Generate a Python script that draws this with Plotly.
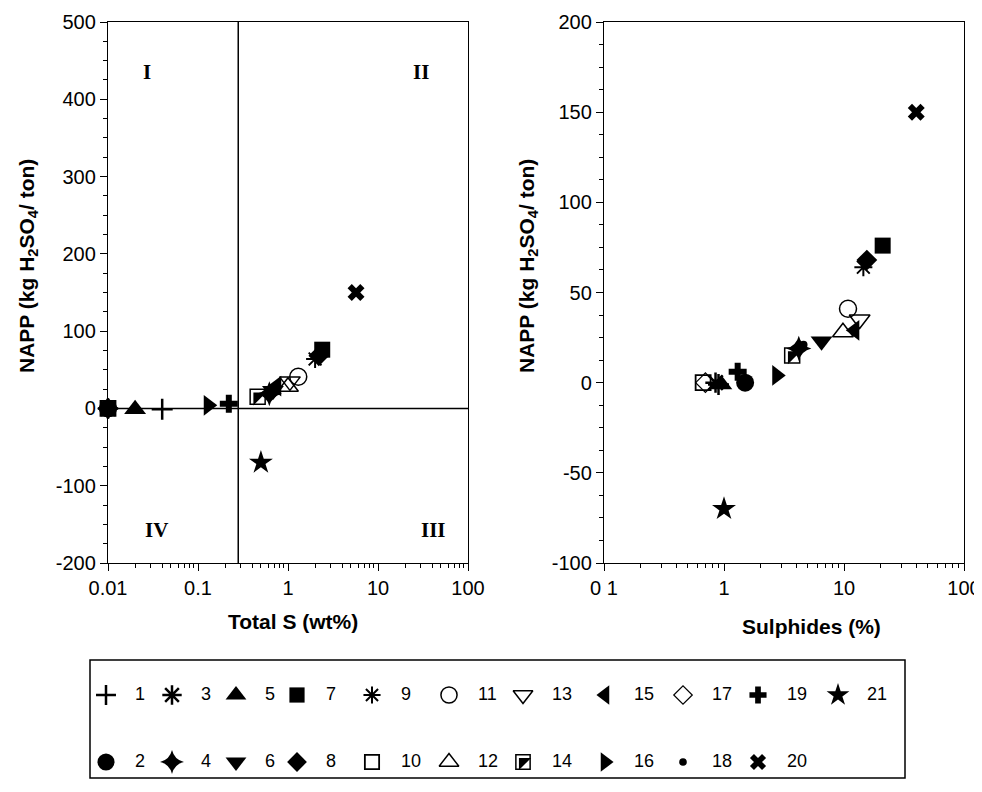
import math
import plotly.graph_objects as go

# ---------------- data ----------------
samples = list(range(1, 22))
total_s = [0.04, 0.01, 0.01, 0.62, 0.02, 0.68, 2.4, 2.2, 2.0, 0.01, 1.3,
           1.0, 1.05, 0.46, 0.75, 0.13, 0.01, 0.62, 0.22, 5.7, 0.5]
sulphides = [0.9, 1.5, 0.85, 4.2, 0.95, 6.5, 21, 15.5, 14.5, 0.67, 10.8,
             9.8, 13.5, 3.7, 12.3, 2.75, 0.7, 4.6, 1.3, 40, 1.0]
napp = [-1, 0, 0, 19, -1, 23, 76, 68, 64, 0, 41,
        28, 35, 15, 29, 4, 0, 21, 6, 150, -70]

left_xticks = [0.01, 0.1, 1, 10, 100]
left_xlabels = ["0.01", "0.1", "1", "10", "100"]
right_xticks = [0.1, 1, 10, 100]
right_xlabels = ["0 1", "1", "10", "100"]
left_yticks = [-200, -100, 0, 100, 200, 300, 400, 500]
left_ylabels = ["-200", "-100", "0", "100", "200", "300", "400", "500"]
right_yticks = [-100, -50, 0, 50, 100, 150, 200]
right_ylabels = ["-100", "-50", "0", "50", "100", "150", "200"]
quadrant_labels = ["I", "II", "III", "IV"]
quadrant_x = [0.027, 30, 41, 0.035]
quadrant_y = [435, 435, -157, -157]
s_threshold = 0.28

# ---------------- styles ----------------
sym = {1: "cross-thin-open", 2: "circle", 3: "asterisk-open", 4: "star-diamond",
       5: "triangle-up", 6: "triangle-down", 7: "square", 8: "diamond",
       9: "asterisk-open", 10: "square-open", 11: "circle-open",
       12: "triangle-up-open", 13: "triangle-down-open", 14: "square-open",
       15: "triangle-left", 16: "triangle-right", 17: "diamond-open",
       18: "circle", 19: "cross", 20: "x", 21: "star"}
size = {1: 15, 2: 18, 3: 17, 4: 18, 5: 19, 6: 19, 7: 16, 8: 16, 9: 15,
        10: 15, 11: 17, 12: 18, 13: 18, 14: 15, 15: 18, 16: 18, 17: 15,
        18: 8, 19: 15, 20: 15, 21: 18}
lw = {1: 2.5, 3: 2.5, 9: 2, 10: 1.8, 11: 1.5, 12: 1.5, 13: 1.5, 14: 1.5, 17: 1.2}

OFF = 8                      # page body margin
W, H = 982 - OFF, 792 - 2 * OFF
FONT = "Liberation Sans"


def px_x(v):
    return (v - OFF) / W


def px_y(v):
    return 1 - (v - OFF) / H


fig = go.Figure()


def marker_for(i, scale=1.0):
    return dict(symbol=sym[i], size=size[i] * scale, color="black",
                line=dict(color="black", width=lw.get(i, 0)))


for ax, xs in (("", total_s), ("2", sulphides)):
    for k, i in enumerate(samples):
        fig.add_trace(go.Scatter(x=[xs[k]], y=[napp[k]], mode="markers",
                                 xaxis="x" + ax, yaxis="y" + ax,
                                 marker=marker_for(i), showlegend=False,
                                 cliponaxis=False, name=str(i)))
        if i == 14:
            fig.add_trace(go.Scatter(x=[xs[k]], y=[napp[k]], mode="markers",
                                     xaxis="x" + ax, yaxis="y" + ax,
                                     marker=dict(symbol="triangle-nw", size=size[i] * 0.95,
                                                 color="black", line=dict(width=0)),
                                     showlegend=False, cliponaxis=False))

# ---------------- legend (drawn on its own pixel axis) ----------------
col_x = [106, 172, 236, 297, 372, 449, 523, 605, 683, 758, 838]
row_y = [695, 762]
leg_x, leg_y, leg_lab = [], [], []
for i in samples:
    col = (i - 1) // 2
    row = (i - 1) % 2
    fig.add_trace(go.Scatter(x=[col_x[col]], y=[row_y[row]], mode="markers",
                             xaxis="x3", yaxis="y3", marker=marker_for(i, 0.95),
                             showlegend=False, cliponaxis=False))
    if i == 14:
        fig.add_trace(go.Scatter(x=[col_x[col]], y=[row_y[row]], mode="markers",
                                 xaxis="x3", yaxis="y3",
                                 marker=dict(symbol="triangle-nw", size=size[i] * 0.9,
                                             color="black", line=dict(width=0)),
                                 showlegend=False, cliponaxis=False))
    leg_x.append(col_x[col] + 29)
    leg_y.append(row_y[row])
    leg_lab.append(str(i))

fig.add_trace(go.Scatter(x=leg_x, y=leg_y, mode="text", text=leg_lab,
                         textposition="middle right", xaxis="x3", yaxis="y3",
                         textfont=dict(family=FONT, size=18, color="black"),
                         showlegend=False, cliponaxis=False))

# ---------------- axes ----------------
dom_left = [px_x(108), px_x(468)]
dom_right = [px_x(604), px_x(964)]
dom_y = [px_y(563), px_y(22)]

tickfont = dict(family=FONT, size=20, color="black")
common = dict(showgrid=False, zeroline=False, showline=True, linecolor="black",
              linewidth=1.3, mirror=True, ticks="outside", ticklen=7,
              tickcolor="black", tickwidth=1, tickfont=tickfont, automargin=False,
              ticklabeloverflow="allow")
minor_log = dict(ticks="outside", ticklen=4, dtick="D1", tickcolor="black", showgrid=False)

leg_top = 640
fig.update_layout(
    template="none",
    xaxis=dict(type="log", domain=dom_left, range=[-2, 2], anchor="y",
               tickvals=left_xticks, ticktext=left_xlabels, minor=minor_log, **common),
    yaxis=dict(domain=dom_y, range=[-200, 500], anchor="x",
               tickvals=left_yticks, ticktext=left_ylabels,
               minor=dict(ticks="outside", ticklen=4, dtick=25,
                          tickcolor="black", showgrid=False), **common),
    xaxis2=dict(type="log", domain=dom_right, range=[-1, 2], anchor="y2",
                tickvals=right_xticks, ticktext=right_xlabels, minor=minor_log, **common),
    yaxis2=dict(domain=dom_y, range=[-100, 200], anchor="x2",
                tickvals=right_yticks, ticktext=right_ylabels,
                minor=dict(ticks="outside", ticklen=4, dtick=12.5,
                           tickcolor="black", showgrid=False), **common),
    xaxis3=dict(domain=[0, 1], range=[OFF, OFF + W], anchor="y3", visible=False,
                automargin=False),
    yaxis3=dict(domain=[0, px_y(leg_top)], range=[OFF + H, leg_top], anchor="x3",
                visible=False, automargin=False),
    width=W, height=H, margin=dict(l=0, r=0, t=0, b=0, pad=0),
    paper_bgcolor="white", plot_bgcolor="white", showlegend=False,
)

# reference lines in left panel
fig.add_shape(type="line", xref="x", yref="y", x0=s_threshold, x1=s_threshold,
              y0=-200, y1=500, line=dict(color="black", width=1.5))
fig.add_shape(type="line", xref="x", yref="y", x0=0.01, x1=100,
              y0=0, y1=0, line=dict(color="black", width=1.5))

# legend box
fig.add_shape(type="rect", xref="paper", yref="paper", x0=px_x(90), x1=px_x(905),
              y0=px_y(778), y1=px_y(660), line=dict(color="black", width=1.5))

# quadrant labels (log axis annotations take log10 positions)
for t, qx, qy in zip(quadrant_labels, quadrant_x, quadrant_y):
    fig.add_annotation(x=math.log10(qx), y=qy, xref="x", yref="y", text="<b>%s</b>" % t,
                       showarrow=False, xanchor="center", yanchor="middle",
                       font=dict(family="Liberation Serif", size=21, color="black"))

# axis titles
ytitle = "<b>NAPP (kg H<sub>2</sub>SO<sub>4</sub>/ ton)</b>"
title_font = dict(family=FONT, size=21, color="black")
for tx, ty, txt, ang in ((28, 266, ytitle, -90), (528, 266, ytitle, -90),
                         (293, 621, "<b>Total S (wt%)</b>", 0),
                         (811, 626, "<b>Sulphides (%)</b>", 0)):
    fig.add_annotation(x=px_x(tx), y=px_y(ty), xref="paper", yref="paper", text=txt,
                       textangle=ang, showarrow=False, font=title_font,
                       xanchor="center", yanchor="middle")

fig.write_html("out.html")
